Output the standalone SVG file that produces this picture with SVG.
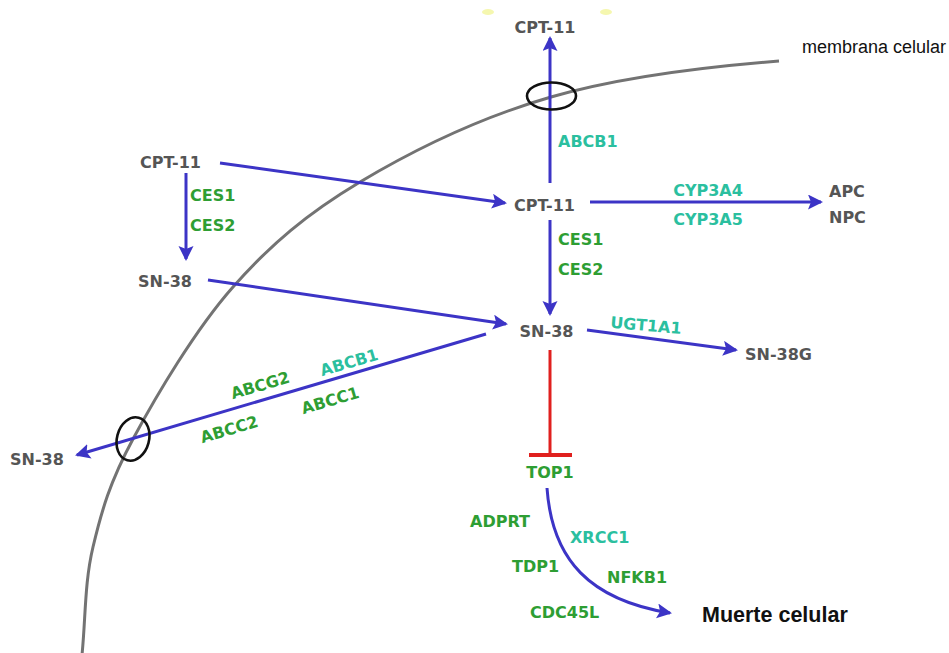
<svg xmlns="http://www.w3.org/2000/svg" width="949" height="653" viewBox="0 0 949 653">
  <style>
    .lbl { font-family: "DejaVu Sans", Verdana, sans-serif; font-weight: bold; font-size: 16px; }
    .drug { fill: #555555; }
    .gene { fill: #2e9e33; }
    .gene2 { fill: #2bbf9f; }
    .mid { text-anchor: middle; }
    .flow { fill: none; stroke: #3c34c6; stroke-width: 3; marker-end: url(#head); }
    .pore { fill: none; stroke: #111111; stroke-width: 2.6; }
  </style>
  <defs>
    <marker id="head" markerUnits="userSpaceOnUse" markerWidth="16" markerHeight="16" refX="13" refY="7.5" orient="auto">
      <path d="M0,0 L15,7.5 L0,15 L3,7.5 z" fill="#3c34c6"/>
    </marker>
  </defs>

  <rect width="949" height="653" fill="#ffffff"/>

  <!-- faint marks above the exported drug -->
  <ellipse cx="488" cy="12" rx="6" ry="3" fill="#eef27a" opacity="0.6"/>
  <ellipse cx="606" cy="12" rx="6" ry="3" fill="#eef27a" opacity="0.6"/>

  <!-- cell membrane -->
  <g id="membrana">
    <path d="M779,61 C703,67 620.8,76.8 551,97 C481.2,117.2 413,150.3 360,182 C307,213.7 270.8,244.2 233,287 C195.2,329.8 156.3,395.7 133,439 C109.7,482.3 101.5,511.3 93,547 C84.5,582.7 85.7,617.7 82,655" fill="none" stroke="#737373" stroke-width="3"/>
    <text x="802" y="53" font-family="'Liberation Sans', Arial, sans-serif" font-size="18" fill="#111111">membrana celular</text>
  </g>

  <!-- connectors -->
  <g id="connectors">
    <line class="flow" x1="550" y1="183" x2="550" y2="38"/>
    <line class="flow" x1="220" y1="163" x2="505" y2="203"/>
    <line class="flow" x1="186" y1="173" x2="186" y2="259"/>
    <line class="flow" x1="590" y1="202" x2="821" y2="202"/>
    <line class="flow" x1="550" y1="220" x2="550" y2="314"/>
    <line class="flow" x1="208" y1="280" x2="506" y2="324"/>
    <line class="flow" x1="587" y1="330" x2="736" y2="350"/>
    <line class="flow" x1="486" y1="334" x2="77" y2="455"/>
    <path class="flow" d="M547,488 C552,560 590,600 670,613"/>
    <g id="inhibicion">
      <line x1="550" y1="350" x2="550" y2="455" stroke="#e0201e" stroke-width="3"/>
      <line x1="529" y1="455" x2="572" y2="455" stroke="#e0201e" stroke-width="4"/>
    </g>
  </g>

  <!-- transporter pores -->
  <g id="poro-superior"><ellipse class="pore" cx="551.5" cy="96" rx="24.5" ry="13.5"/></g>
  <g id="poro-inferior"><ellipse class="pore" cx="133" cy="439" rx="16" ry="22" transform="rotate(15 133 439)"/></g>

  <!-- drugs and metabolites -->
  <g id="cpt11-fuera"><text class="lbl drug mid" x="545" y="33">CPT-11</text></g>
  <g id="cpt11-izq"><text class="lbl drug mid" x="170.5" y="168">CPT-11</text></g>
  <g id="sn38-izq"><text class="lbl drug mid" x="165" y="287">SN-38</text></g>
  <g id="cpt11-centro"><text class="lbl drug mid" x="544.5" y="211">CPT-11</text></g>
  <g id="apc-npc">
    <text class="lbl drug" x="829" y="197">APC</text>
    <text class="lbl drug" x="829" y="223">NPC</text>
  </g>
  <g id="sn38-centro"><text class="lbl drug mid" x="546.5" y="337">SN-38</text></g>
  <g id="sn38g"><text class="lbl drug" x="745" y="360">SN-38G</text></g>
  <g id="sn38-fuera"><text class="lbl drug" x="10" y="465">SN-38</text></g>
  <g id="top1"><text class="lbl gene mid" x="550" y="478">TOP1</text></g>
  <g id="muerte"><text x="702" y="622" font-family="'Liberation Sans', Arial, sans-serif" font-weight="bold" font-size="21.5" fill="#111111">Muerte celular</text></g>

  <!-- enzyme and transporter labels -->
  <g id="genes">
    <text class="lbl gene2" x="558" y="147">ABCB1</text>
    <text class="lbl gene" x="190" y="201">CES1</text>
    <text class="lbl gene" x="190" y="231">CES2</text>
    <text class="lbl gene" x="558" y="245">CES1</text>
    <text class="lbl gene" x="558" y="275">CES2</text>
    <text class="lbl gene2 mid" x="708" y="196">CYP3A4</text>
    <text class="lbl gene2 mid" x="708" y="225">CYP3A5</text>
    <text class="lbl gene2 mid" transform="translate(646 325) rotate(5)" y="6">UGT1A1</text>
    <text class="lbl gene mid" transform="translate(260 385) rotate(-16.5)" y="6">ABCG2</text>
    <text class="lbl gene2 mid" transform="translate(349 362) rotate(-16.5)" y="6">ABCB1</text>
    <text class="lbl gene mid" transform="translate(330 400) rotate(-16.5)" y="6">ABCC1</text>
    <text class="lbl gene mid" transform="translate(229 429) rotate(-16.5)" y="6">ABCC2</text>
    <text class="lbl gene" x="470" y="527">ADPRT</text>
    <text class="lbl gene2" x="570" y="543">XRCC1</text>
    <text class="lbl gene" x="512" y="572">TDP1</text>
    <text class="lbl gene" x="607" y="583">NFKB1</text>
    <text class="lbl gene" x="530" y="618">CDC45L</text>
  </g>
</svg>
